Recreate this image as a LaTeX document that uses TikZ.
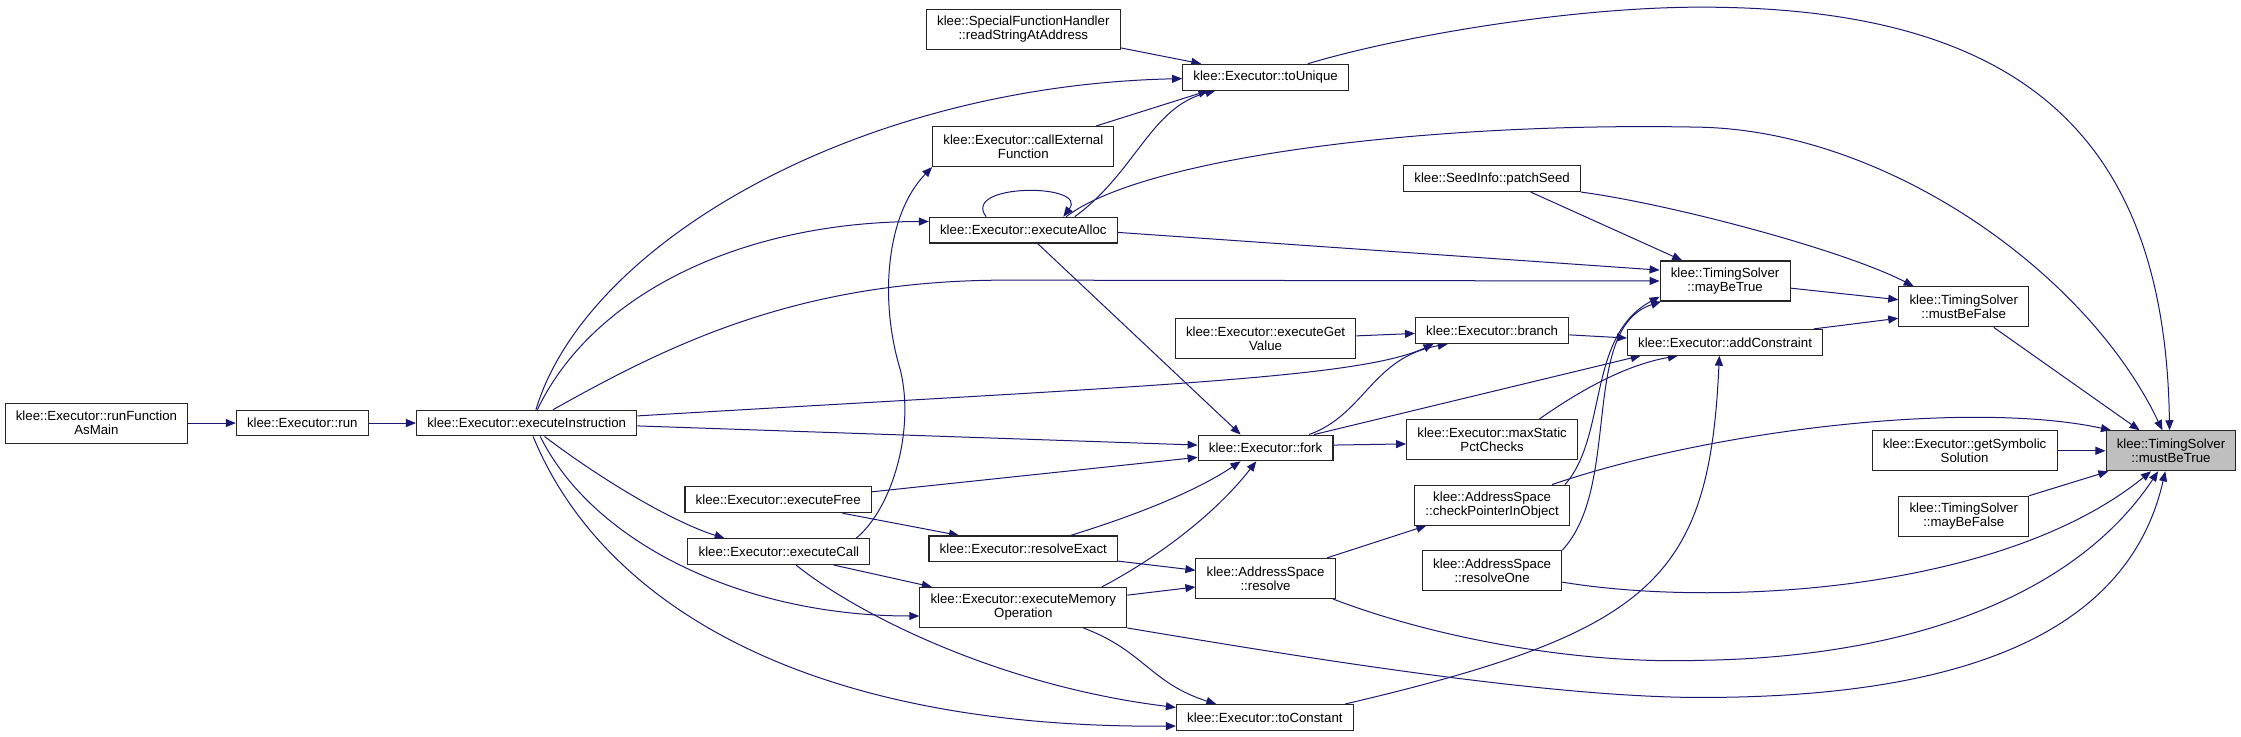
\documentclass[tikz,border=0pt]{standalone}
\usepackage{fontspec}
\setmainfont{Liberation Sans}
\usetikzlibrary{arrows.meta,calc,backgrounds}
\definecolor{edgeblue}{HTML}{191970}
\begin{document}
\begin{tikzpicture}[x=1pt,y=-1pt,
  fn/.style={draw=black!85, line width=0.75pt, fill=white, inner xsep=7.5pt, inner ysep=0pt,
    minimum height=18pt, align=center, font=\fontsize{9.27}{9.9}\selectfont},
  fn2/.style={fn, minimum height=28pt},
  call/.style={draw=edgeblue, line width=0.7pt, -{Triangle[length=7pt,width=5.6pt]}}]
\useasboundingbox (0,0) rectangle (1568,515);
% nodes
\node[fn2] (rfm) at (67.5,296) {klee::Executor::runFunction\\AsMain};
\node[fn] (run) at (211.5,296) {klee::Executor::run};
\node[fn] (ei) at (368.5,296) {klee::Executor::executeInstruction};
\node[fn2] (rs) at (716,20.5) {klee::SpecialFunctionHandler\\::readStringAtAddress};
\node[fn2] (cef) at (716,102.5) {klee::Executor::callExternal\\Function};
\node[fn] (ea) at (716,161) {klee::Executor::executeAlloc};
\node[fn] (ef) at (544.5,349.7) {klee::Executor::executeFree};
\node[fn] (ec) at (545,386) {klee::Executor::executeCall};
\node[fn] (re) at (716,384) {klee::Executor::resolveExact};
\node[fn2] (emo) at (716,425) {klee::Executor::executeMemory\\Operation};
\node[fn] (tu) at (885.5,54) {klee::Executor::toUnique};
\node[fn2] (egv) at (885.5,237) {klee::Executor::executeGet\\Value};
\node[fn] (fk) at (885.5,313.4) {klee::Executor::fork};
\node[fn2] (rsv) at (885.5,404.7) {klee::AddressSpace\\::resolve};
\node[fn] (tc) at (885,502) {klee::Executor::toConstant};
\node[fn] (ps) at (1044,125) {klee::SeedInfo::patchSeed};
\node[fn] (br) at (1044,231.3) {klee::Executor::branch};
\node[fn2] (msp) at (1044,307.6) {klee::Executor::maxStatic\\PctChecks};
\node[fn2] (cpo) at (1044,353.4) {klee::AddressSpace\\::checkPointerInObject};
\node[fn2] (ro) at (1044,399.3) {klee::AddressSpace\\::resolveOne};
\node[fn2] (mbt) at (1207,196.6) {klee::TimingSolver\\::mayBeTrue};
\node[fn] (ac) at (1207,239.5) {klee::Executor::addConstraint};
\node[fn2] (mbf) at (1374,214.7) {klee::TimingSolver\\::mustBeFalse};
\node[fn2] (gss) at (1374.6,315.4) {klee::Executor::getSymbolic\\Solution};
\node[fn2] (mbfa) at (1374,361.2) {klee::TimingSolver\\::mayBeFalse};
\node[fn2, fill=black!25] (mbtr) at (1519,315.4) {klee::TimingSolver\\::mustBeTrue};
% edges
\begin{scope}[on background layer]
\draw[call] (rfm.east) -- (run.west);
\draw[call] (run.east) -- (ei.west);
\draw[call] ($(ei.north)+(6.5,0)$) .. controls (410,170) and (600,60) .. ($(tu.west)+(0,1)$);
\draw[call] ($(ei.north)+(7.5,0)$) .. controls (415,205) and (520,155) .. ($(ea.west)+(0,-6)$);
\draw[call] ($(ei.north)+(18.5,0)$) .. controls (470,240) and (560,196) .. (704,196) -- (mbt.west);
\draw[call] ($(ei.east)+(0,-5)$) .. controls (800,270) and (950,265) .. ($(br.south)+(-41,0)$);
\draw[call] ($(ei.east)+(0,2)$) -- ($(fk.west)+(0,-2)$);
\draw[call] ($(ei.south)+(12.5,0)$) .. controls (420,335) and (470,365) .. ($(ec.north)+(-38,0)$);
\draw[call] ($(ei.south)+(9.5,0)$) .. controls (415,380) and (520,431) .. ($(emo.west)+(0,6)$);
\draw[call] ($(ei.south)+(4.5,0)$) .. controls (420,420) and (560,510) .. ($(tc.west)+(0,6)$);
\draw[call] ($(rs.east)+(0,13)$) -- ($(tu.north)+(-45,0)$);
\draw[call] ($(cef.north)+(51,0)$) -- ($(tu.south)+(-40,0)$);
\draw[call] ($(ea.north)+(36,0)$) .. controls (795,120) and (805,75) .. ($(tu.south)+(-35,0)$);
\draw[call] ($(ea.north)+(-26,0)$) .. controls (672,128) and (762,128) .. ($(ea.north)+(28,0)$);
\draw[call] ($(ea.north)+(30,0)$) .. controls (800,110) and (1000,85) .. (1190,89)
   .. controls (1320,92) and (1460,190) .. ($(mbtr.north)+(-6,0)$);
\draw[call] ($(tu.north)+(29.5,0)$) .. controls (980,25) and (1100,5) .. (1190,5)
   .. controls (1420,5) and (1515,100) .. ($(mbtr.north)+(-1,0)$);
\draw[call] ($(ps.south)+(27,0)$) -- ($(mbt.north)+(-30,0)$);
\draw[call] (ps.south east) .. controls (1170,143) and (1290,175) .. ($(mbf.north)+(-35,0)$);
\draw[call] ($(mbt.east)+(0,5)$) -- ($(mbf.west)+(0,-5)$);
\draw[call] ($(ac.north)+(62,0)$) -- ($(mbf.west)+(0,8)$);
\draw[call] ($(mbf.south)+(21,0)$) -- ($(mbtr.north)+(-22,0)$);
\draw[call] (gss.east) -- (mbtr.west);
\draw[call] (mbfa.north east) -- ($(mbtr.south west)+(2,0)$);
\draw[call] ($(cpo.north)+(42,0)$) .. controls (1200,300) and (1380,280) .. ($(mbtr.north)+(-42,0)$);
\draw[call] ($(ro.east)+(0,8)$) .. controls (1200,425) and (1400,415) .. ($(mbtr.south)+(-14,0)$);
\draw[call] ($(rsv.south east)+(-2,0)$) .. controls (1000,445) and (1100,465) .. (1190,462)
   .. controls (1330,460) and (1450,420) .. ($(mbtr.south)+(-9,0)$);
\draw[call] (emo.south east) .. controls (900,458) and (1080,488) .. (1190,488)
   .. controls (1380,488) and (1490,440) .. ($(mbtr.south)+(-4,0)$);
\draw[call] ($(tc.north)+(56,0)$) .. controls (1157,442) and (1196,405) .. ($(ac.south)+(-4,0)$);
\draw[call] ($(egv.east)+(0,-2)$) -- ($(br.west)+(0,2)$);
\draw[call] ($(br.east)+(0,3)$) -- ($(ac.west)+(0,-3)$);
\draw[call] ($(fk.north)+(30.5,0)$) .. controls (955,290) and (960,250) .. ($(br.south)+(-31,0)$);
\draw[call] ($(fk.north)+(34,0)$) -- ($(ac.south)+(-59,0)$);
\draw[call] ($(msp.north)+(33,0)$) .. controls (1110,270) and (1140,255) .. ($(ac.south)+(-33,0)$);
\draw[call] ($(fk.east)+(0,-2)$) -- ($(msp.west)+(0,3)$);
\draw[call] ($(cpo.north)+(51,0)$) .. controls (1125,305) and (1110,235) .. ($(mbt.west)+(0,11)$);
\draw[call] (ro.north east) .. controls (1135,340) and (1105,230) .. ($(mbt.south west)+(1,0)$);
\draw[call] ($(rsv.north)+(43,0)$) -- ($(cpo.south)+(-46,0)$);
\draw[call] ($(re.east)+(0,8.6)$) -- ($(rsv.west)+(0,-5.7)$);
\draw[call] ($(emo.east)+(0,-8.6)$) -- ($(rsv.west)+(0,6)$);
\draw[call] ($(re.north)+(33,0)$) .. controls (790,362) and (835,345) .. ($(fk.south)+(-17.5,0)$);
\draw[call] ($(emo.north)+(55,0)$) .. controls (810,390) and (850,360) .. ($(fk.south)+(-6.5,0)$);
\draw[call] ($(emo.south)+(42,0)$) .. controls (800,455) and (805,478) .. ($(tc.north)+(-34,0)$);
\draw[call] ($(ec.south)+(38.5,0)$) -- ($(emo.north)+(-64,0)$);
\draw[call] ($(ec.south)+(12,0)$) .. controls (600,430) and (700,480) .. ($(tc.west)+(0,-7)$);
\draw[call] ($(ec.north)+(54,0)$) .. controls (625,355) and (640,300) .. (630,259)
   .. controls (615,210) and (620,150) .. (cef.south west);
\draw[call] ($(ef.east)+(0,-5.6)$) -- ($(fk.west)+(0,6.6)$);
\draw[call] ($(ef.south)+(45,0)$) -- ($(re.north)+(-45,0)$);
\draw[call] ($(ea.south)+(10,0)$) -- ($(fk.north)+(-17.5,0)$);
\draw[call] ($(ea.east)+(0,1.6)$) -- ($(mbt.west)+(0,-7.6)$);
\end{scope}
\end{tikzpicture}
\end{document}
